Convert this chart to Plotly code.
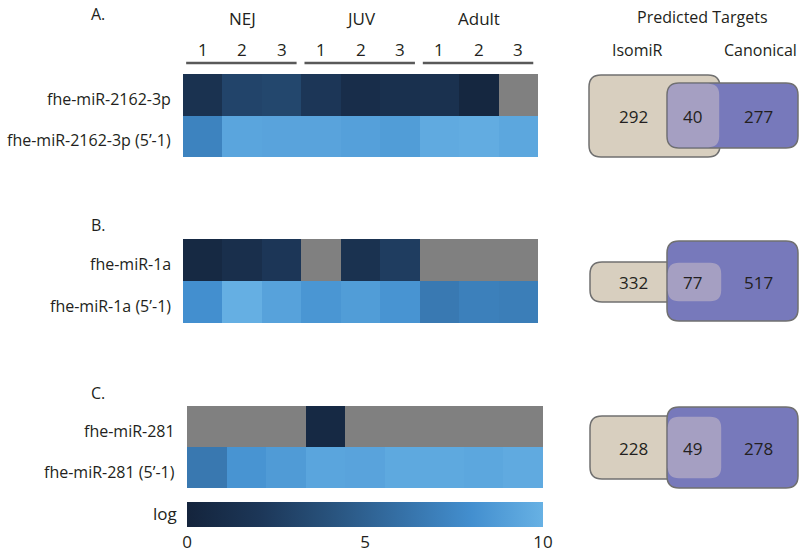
import plotly.graph_objects as go

# ---------------- data ----------------
columns = ["1", "2", "3", "1", "2", "3", "1", "2", "3"]
groups = ["NEJ", "JUV", "Adult"]

A_rows = ["fhe-miR-2162-3p", "fhe-miR-2162-3p (5’-1)"]
A_vals = [[1.5, 3.0, 3.2, 2.0, 1.0, 1.3, 1.4, 0.3, None],
          [7.2, 9.3, 9.2, 9.2, 9.0, 8.8, 9.6, 9.7, 9.4]]

B_rows = ["fhe-miR-1a", "fhe-miR-1a (5’-1)"]
B_vals = [[0.5, 1.2, 2.0, None, 1.5, 2.5, None, None, None],
          [8.0, 9.9, 9.1, 8.4, 8.8, 8.3, 6.6, 7.0, 6.9]]

C_rows = ["fhe-miR-281", "fhe-miR-281 (5’-1)"]
C_vals = [[None, None, None, 0.6, None, None, None, None, None],
          [6.5, 8.3, 8.7, 9.3, 9.2, 9.5, 9.5, 9.4, 9.6]]

venn_isomir = [292, 332, 228]
venn_shared = [40, 77, 49]
venn_canonical = [277, 517, 278]
panel_letters = ["A.", "B.", "C."]

# ---------------- style / layout ----------------
W, H = 800, 552
FONT = "Open Sans"
TXT = "#231f20"
colorscale = [[0.0, "#14243c"], [0.2, "#1c3657"], [0.4, "#28527c"],
              [0.6, "#3570a6"], [0.8, "#438fcf"], [1.0, "#67b1e4"]]
GREY = "#808080"

def px(x):
    return x / W

def py(y):
    return 1 - y / H

# pixel boxes of heatmaps (x0, x1, ytop, ybottom)
hm_boxes = [(183, 538, 74, 157), (183, 538, 239, 323), (187, 543, 406, 488)]
letter_pos = [(98, 14), (98, 225), (98, 393)]

fig = go.Figure()
datasets = [(A_rows, A_vals), (B_rows, B_vals), (C_rows, C_vals)]
annotations = []
shapes = []

for i, ((rows, vals), box) in enumerate(zip(datasets, hm_boxes)):
    xa = "x" if i == 0 else f"x{i+1}"
    ya = "y" if i == 0 else f"y{i+1}"
    xs = list(range(len(columns)))
    ys = list(range(len(rows)))
    fig.add_trace(go.Heatmap(z=vals, x=xs, y=ys, coloraxis="coloraxis",
                             xaxis=xa, yaxis=ya, hoverongaps=False))
    grey = [[1 if v is None else None for v in r] for r in vals]
    fig.add_trace(go.Heatmap(z=grey, x=xs, y=ys, xaxis=xa, yaxis=ya,
                             colorscale=[[0, GREY], [1, GREY]], showscale=False,
                             zmin=0, zmax=1, hoverongaps=False))
    x0, x1, yt, yb = box
    lname = "xaxis" if i == 0 else f"xaxis{i+1}"
    yname = "yaxis" if i == 0 else f"yaxis{i+1}"
    fig.layout[lname] = dict(domain=[px(x0), px(x1)], range=[-0.5, 8.5],
                             visible=False, anchor=ya)
    fig.layout[yname] = dict(domain=[py(yb), py(yt)], range=[1.5, -0.5],
                             visible=False, anchor=xa)
    # row labels
    rowh = (yb - yt) / len(rows)
    for r, lab in enumerate(rows):
        annotations.append(dict(text=lab, x=px(x0 - 10), y=py(yt + rowh * (r + 0.5) + 4),
                                xref="paper", yref="paper", xanchor="right",
                                yanchor="middle", showarrow=False,
                                font=dict(size=16, color=TXT, family=FONT)))
    # panel letter
    lx, ly = letter_pos[i]
    annotations.append(dict(text=panel_letters[i], x=px(lx), y=py(ly), xref="paper",
                            yref="paper", xanchor="center", yanchor="middle",
                            showarrow=False, font=dict(size=16, color=TXT, family=FONT)))

# column header of panel A
for j, c in enumerate(columns):
    annotations.append(dict(text=c, x=j, y=py(49), xref="x", yref="paper",
                            xanchor="center", yanchor="middle", showarrow=False,
                            font=dict(size=17, color=TXT, family=FONT)))
for g, name in enumerate(groups):
    annotations.append(dict(text=name, x=3 * g + 1, y=py(18), xref="x", yref="paper",
                            xanchor="center", yanchor="middle", showarrow=False,
                            font=dict(size=17, color=TXT, family=FONT)))
    shapes.append(dict(type="line", xref="x", yref="paper", x0=3 * g - 0.42,
                       x1=3 * g + 2.38, y0=py(63), y1=py(63),
                       line=dict(color="#595959", width=2.5)))

# "log" label for colour bar
annotations.append(dict(text="log", x=px(179), y=py(513), xref="paper", yref="paper",
                        xanchor="right", yanchor="middle", showarrow=False,
                        font=dict(size=17, color=TXT, family=FONT)))

# ---------------- Venn-like boxes ----------------
def rrect(x0, y0, x1, y1, r):
    return (f"M {px(x0 + r)},{py(y0)} L {px(x1 - r)},{py(y0)} "
            f"Q {px(x1)},{py(y0)} {px(x1)},{py(y0 + r)} "
            f"L {px(x1)},{py(y1 - r)} Q {px(x1)},{py(y1)} {px(x1 - r)},{py(y1)} "
            f"L {px(x0 + r)},{py(y1)} Q {px(x0)},{py(y1)} {px(x0)},{py(y1 - r)} "
            f"L {px(x0)},{py(y0 + r)} Q {px(x0)},{py(y0)} {px(x0 + r)},{py(y0)} Z")

BEIGE, PURPLE, OVER, EDGE = "#d8cfbf", "#7779bb", "#a59fc2", "#707070"
venn_boxes = [
    # beige box, purple box, text y
    ((589, 75, 720, 157), (667, 83, 798, 148), 116),
    ((590, 262, 722, 302), (667, 241, 798, 321), 282),
    ((590, 416, 722, 479), (667, 407, 798, 488), 448),
]
for k, (bb, pb, ty) in enumerate(venn_boxes):
    shapes.append(dict(type="path", xref="paper", yref="paper", path=rrect(*bb, 12),
                       fillcolor=BEIGE, line=dict(color=EDGE, width=1.5), layer="above"))
    shapes.append(dict(type="path", xref="paper", yref="paper", path=rrect(*pb, 12),
                       fillcolor=PURPLE, line=dict(color=EDGE, width=1.5), layer="above"))
    ox0, oy0 = max(bb[0], pb[0]), max(bb[1], pb[1])
    ox1, oy1 = min(bb[2], pb[2]), min(bb[3], pb[3])
    shapes.append(dict(type="path", xref="paper", yref="paper",
                       path=rrect(ox0 + 0.8, oy0 + 0.8, ox1 - 0.8, oy1 - 0.8, 11),
                       fillcolor=OVER, line=dict(width=0), layer="above"))
    for val, cx in zip([venn_isomir[k], venn_shared[k], venn_canonical[k]], [633, 692, 758]):
        annotations.append(dict(text=str(val), x=px(cx), y=py(ty), xref="paper",
                                yref="paper", xanchor="center", yanchor="middle",
                                showarrow=False,
                                font=dict(size=17, color=TXT, family=FONT)))

for text, cx, cy in [("Predicted Targets", 702, 17), ("IsomiR", 637, 50), ("Canonical", 760, 50)]:
    annotations.append(dict(text=text, x=px(cx), y=py(cy), xref="paper", yref="paper",
                            xanchor="center", yanchor="middle", showarrow=False,
                            font=dict(size=16, color=TXT, family=FONT)))

fig.update_layout(
    width=W, height=H, margin=dict(l=0, r=0, t=0, b=0),
    paper_bgcolor="white", plot_bgcolor="white", showlegend=False,
    font=dict(family=FONT, color=TXT),
    coloraxis=dict(colorscale=colorscale, cmin=0, cmax=10,
                   colorbar=dict(orientation="h", x=px(365), xanchor="center",
                                 y=py(502), yanchor="top", len=356, lenmode="pixels",
                                 thickness=25, thicknessmode="pixels", xpad=0, ypad=0,
                                 outlinewidth=0, tickvals=[0, 5, 10], ticks="",
                                 tickfont=dict(size=17, color=TXT, family=FONT))),
    annotations=annotations, shapes=shapes,
)

fig.write_html("out.html")
